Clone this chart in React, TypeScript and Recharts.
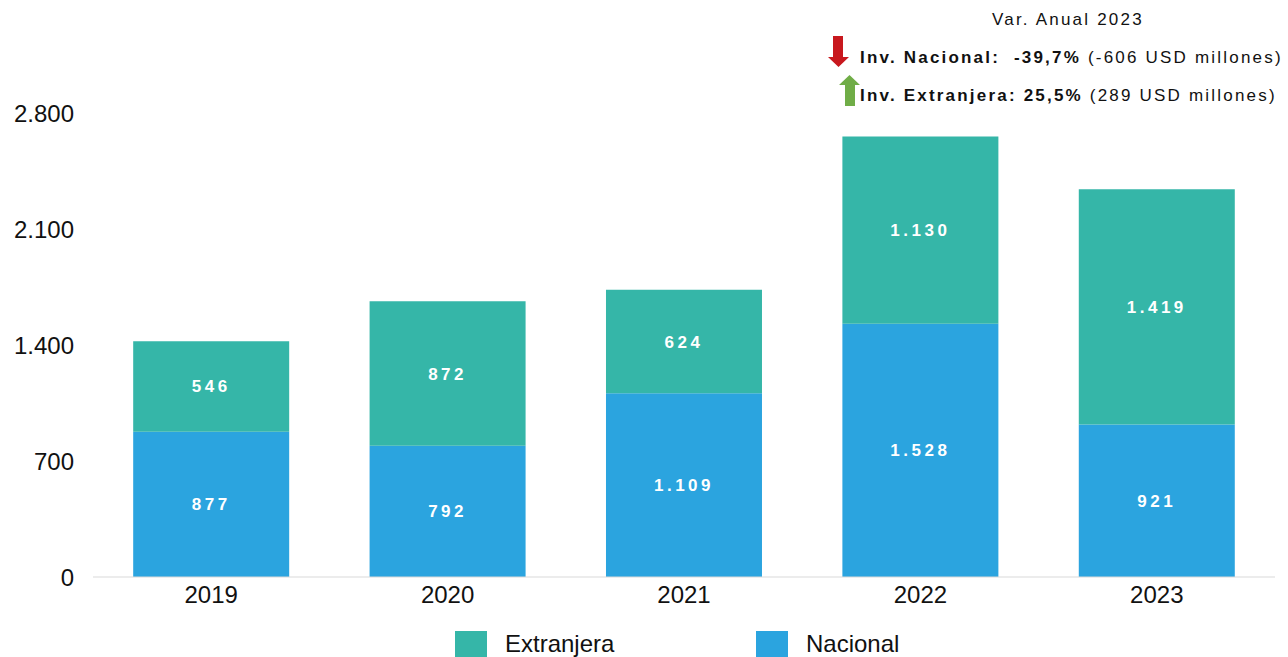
import { BarChart, Bar, XAxis, YAxis, LabelList } from 'recharts'

const years = ['2019', '2020', '2021', '2022', '2023']
const nacional = [877, 792, 1109, 1528, 921]
const extranjera = [546, 872, 624, 1130, 1419]
const yTicks = [0, 700, 1400, 2100, 2800]

const TEAL = '#35b6a8'
const BLUE = '#2ba4df'
const FONT = '"Liberation Sans", Arial, sans-serif'

const data = years.map((year, i) => ({
  year,
  nacional: nacional[i],
  extranjera: extranjera[i],
}))

// miles con punto
const fmt = (v: number) => String(v).replace(/\B(?=(\d{3})+(?!\d))/g, '.')

const labelStyle = {
  fill: '#fff',
  fontSize: 17,
  fontWeight: 700,
  letterSpacing: 3.5,
  fontFamily: FONT,
}

const legendItems = [
  { name: 'Extranjera', color: TEAL },
  { name: 'Nacional', color: BLUE },
]

export default function App() {
  return (
    <div style={{ position: 'absolute', left: 0, top: 0, width: 1288, height: 657, background: '#fff' }}>
      <BarChart
        width={1288}
        height={657}
        data={data}
        margin={{ top: 113, right: 13, bottom: 50, left: 0 }}
        barCategoryGap="17%"
      >
        <XAxis
          dataKey="year"
          height={30}
          tickLine={false}
          axisLine={{ stroke: '#d9d9d9' }}
          tick={{ fill: '#111', fontSize: 24, fontFamily: FONT }}
          tickMargin={3}
        />
        <YAxis
          width={93}
          domain={[0, 2800]}
          ticks={yTicks}
          tickFormatter={fmt}
          axisLine={false}
          tickLine={false}
          tickMargin={13}
          tick={{ fill: '#111', fontSize: 24, fontFamily: FONT }}
        />
        <Bar dataKey="nacional" stackId="a" fill={BLUE} isAnimationActive={false}>
          <LabelList dataKey="nacional" position="center" formatter={fmt} style={labelStyle} />
        </Bar>
        <Bar dataKey="extranjera" stackId="a" fill={TEAL} isAnimationActive={false}>
          <LabelList dataKey="extranjera" position="center" formatter={fmt} style={labelStyle} />
        </Bar>
      </BarChart>

      {/* leyenda */}
      {legendItems.map((it, i) => (
        <div
          key={it.name}
          style={{
            position: 'absolute',
            left: 455 + i * 301,
            top: 630,
            display: 'flex',
            alignItems: 'center',
            fontSize: 24,
            fontFamily: FONT,
            color: '#111',
            whiteSpace: 'nowrap',
          }}
        >
          <div style={{ width: 32, height: 27, background: it.color, marginRight: 18 }} />
          <span>{it.name}</span>
        </div>
      ))}

      {/* nota variación anual */}
      <div style={{ position: 'absolute', left: 0, top: 0, fontFamily: FONT, color: '#111', fontSize: 17, letterSpacing: 2.2 }}>
        <div style={{ position: 'absolute', left: 992, top: 10, whiteSpace: 'nowrap' }}>Var. Anual 2023</div>
        <svg style={{ position: 'absolute', left: 826, top: 36 }} width={40} height={74}>
          <polygon points="7,0 17,0 17,21 23,21 12.5,31 2,21 7,21" fill="#c8181e" />
          <polygon points="23.5,39 34,49 29,49 29,70 19,70 19,49 13,49" fill="#70ad47" />
        </svg>
        <div style={{ position: 'absolute', left: 860, top: 48, whiteSpace: 'nowrap' }}>
          <b>Inv. Nacional:&nbsp; -39,7%</b> (-606 USD millones)
        </div>
        <div style={{ position: 'absolute', left: 860, top: 86, whiteSpace: 'nowrap' }}>
          <b>Inv. Extranjera: 25,5%</b> (289 USD millones)
        </div>
      </div>
    </div>
  )
}
